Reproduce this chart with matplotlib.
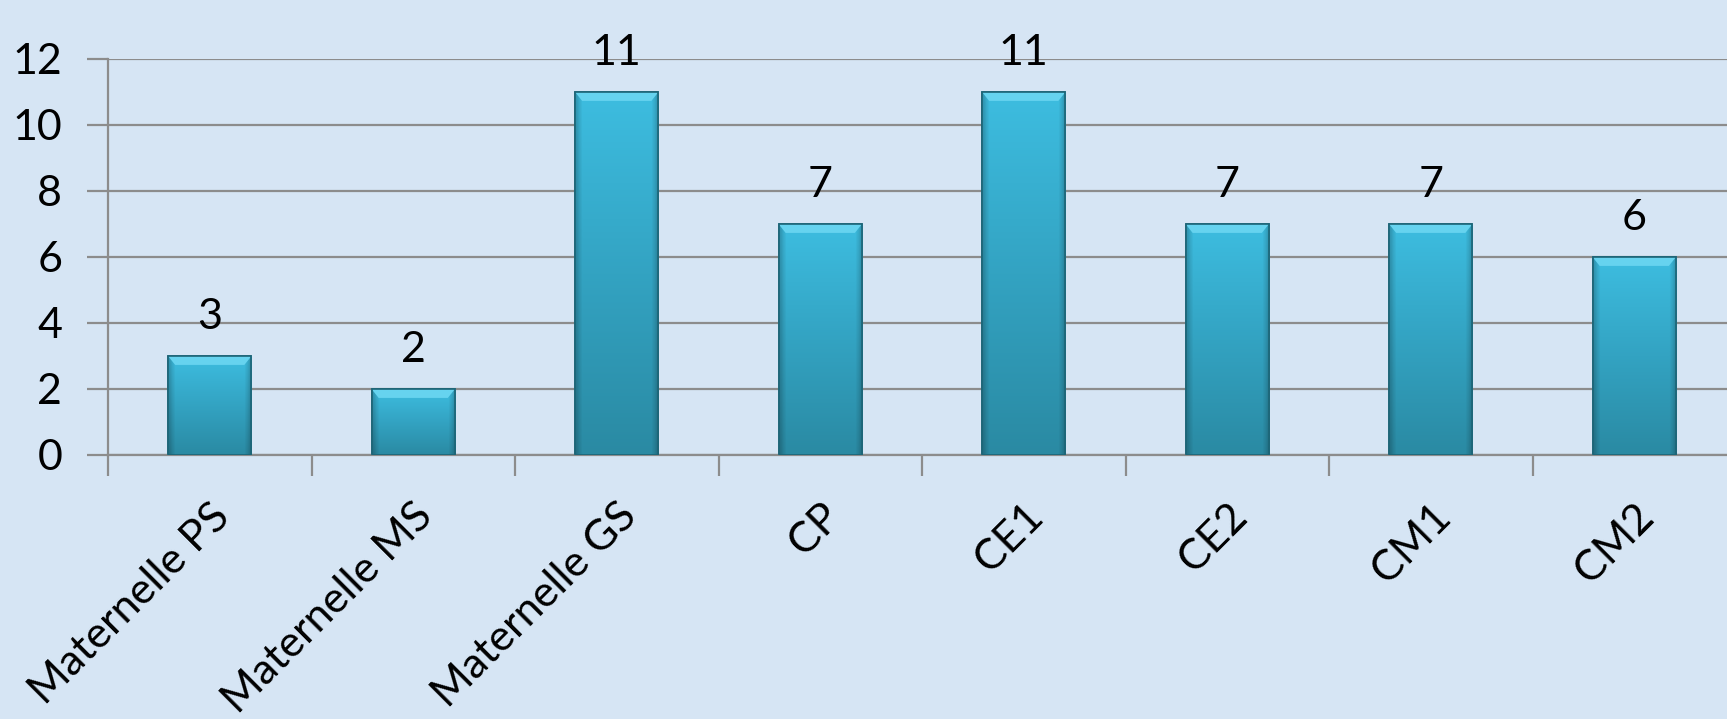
import numpy as np
import matplotlib
matplotlib.use("Agg")
import matplotlib.pyplot as plt
from matplotlib.patches import Rectangle, Polygon
from matplotlib.colors import LinearSegmentedColormap

categories = ["Maternelle PS", "Maternelle MS", "Maternelle GS", "CP", "CE1", "CE2", "CM1", "CM2"]
values = [3, 2, 11, 7, 11, 7, 7, 6]
yticks = [0, 2, 4, 6, 8, 10, 12]

plt.rcParams['font.family'] = ['Lato', 'DejaVu Sans']

W, H = 1727, 719
fig = plt.figure(figsize=(W / 100, H / 100), dpi=100)
bg = '#d6e5f4'
fig.patch.set_facecolor(bg)

left, right = 108 / W, 1736 / W
bottom, top = 1 - 455 / H, 1 - 59 / H
ax = fig.add_axes([left, bottom, right - left, top - bottom])
ax.set_facecolor('none')

n = len(categories)
x = np.arange(n)
bw = 0.41
ax.set_xlim(-0.5, n - 0.5)
ax.set_ylim(0, 12)

grid_c = '#8c8c8c'
for t in yticks:
    ax.axhline(t, color=grid_c, lw=1.6, zorder=1)

cmap_v = LinearSegmentedColormap.from_list('v', ['#2a8aa3', '#33a3c2', '#3dbde0'])
ny, nx = 200, 60
gy = np.linspace(0, 1, ny)[:, None]
gx = np.linspace(0, 1, nx)[None, :]
edge = np.clip(np.minimum(gx, 1 - gx) / 0.08, 0, 1)
rgba = cmap_v(np.repeat(gy, nx, axis=1))
rgba[..., :3] *= (0.78 + 0.22 * edge)[..., None]

fs = 31
for xi, v in zip(x, values):
    x0 = xi - bw / 2
    rect = Rectangle((x0, 0), bw, v, facecolor='#35a8c8', edgecolor='#1d6577', lw=1.2, zorder=2)
    ax.add_patch(rect)
    im = ax.imshow(rgba, extent=(x0, x0 + bw, 0, v), origin='lower', aspect='auto', zorder=3)
    im.set_clip_path(rect)
    bev_h = 0.27
    bev_w = 0.035
    top_poly = Polygon([(x0, v), (x0 + bw, v), (x0 + bw - bev_w, v - bev_h), (x0 + bev_w, v - bev_h)],
                       closed=True, facecolor='#66d3ef', edgecolor='none', zorder=4)
    ax.add_patch(top_poly)
    ax.add_patch(Rectangle((x0, 0), bw, v, facecolor='none', edgecolor='#1d6577', lw=1.2, zorder=5))
    ax.text(xi, v + 0.62, str(v), ha='center', va='bottom', fontsize=fs, color='black', zorder=6)

ax.set_yticks(yticks)
ax.set_yticklabels([str(t) for t in yticks], fontsize=fs)
ax.set_xticks(np.arange(n + 1) - 0.5, minor=True)
ax.set_xticks(x)
ax.set_xticklabels(categories, rotation=45, ha='right', rotation_mode='anchor', fontsize=fs)
ax.tick_params(axis='x', which='major', length=0, pad=30)
ax.tick_params(axis='x', which='minor', length=15, color=grid_c, width=1.6)
ax.tick_params(axis='y', length=15, color=grid_c, width=1.6, pad=18)
for s in ['top', 'right']:
    ax.spines[s].set_visible(False)
ax.spines['left'].set_color(grid_c)
ax.spines['left'].set_linewidth(1.6)
ax.spines['bottom'].set_color(grid_c)
ax.spines['bottom'].set_linewidth(1.6)

fig.savefig('out.png', dpi=100, facecolor=bg)
